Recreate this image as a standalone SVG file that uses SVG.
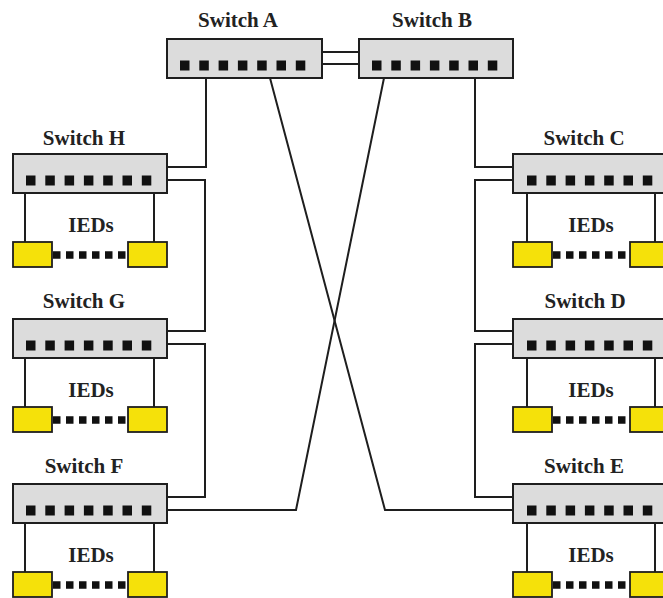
<svg xmlns="http://www.w3.org/2000/svg" xmlns:xlink="http://www.w3.org/1999/xlink" width="663" height="598" viewBox="0 0 663 598">
<style>
.box{fill:#dcdcdc;stroke:#1e1e1e;stroke-width:2}
.ied{fill:#f5e10a;stroke:#1e1e1e;stroke-width:1.8}
.port{fill:#111}
.ln{fill:none;stroke:#1e1e1e;stroke-width:2}
.dots{fill:none;stroke:#111;stroke-width:7.5;stroke-dasharray:7.5 5.5}
.lbl{font-family:"Liberation Serif","Times New Roman",serif;font-weight:bold;font-size:21px;fill:#222;text-anchor:middle}
</style>
<defs>
<g id="ports">
<rect class="port" x="0" y="0" width="9.5" height="10"/>
<rect class="port" x="19.3" y="0" width="9.5" height="10"/>
<rect class="port" x="38.6" y="0" width="9.5" height="10"/>
<rect class="port" x="57.9" y="0" width="9.5" height="10"/>
<rect class="port" x="77.2" y="0" width="9.5" height="10"/>
<rect class="port" x="96.5" y="0" width="9.5" height="10"/>
<rect class="port" x="115.8" y="0" width="9.5" height="10"/>
</g>
</defs>
<rect width="663" height="598" fill="#fff"/>

<g id="connectors">
<line class="ln" x1="322" y1="52" x2="359" y2="52"/>
<line class="ln" x1="322" y1="64" x2="359" y2="64"/>
<polyline class="ln" points="206,78 206,167 167,167"/>
<polyline class="ln" points="167,180 205,180 205,331 167,331"/>
<polyline class="ln" points="167,344 205,344 205,497 167,497"/>
<polyline class="ln" points="475,78 475,167 513,167"/>
<polyline class="ln" points="513,180 475,180 475,331 513,331"/>
<polyline class="ln" points="513,344 475,344 475,497 513,497"/>
<polyline class="ln" points="270,78 385,510 513,510"/>
<polyline class="ln" points="384,78 296,510 167,510"/>
<line class="ln" x1="25" y1="193" x2="25" y2="242"/>
<line class="ln" x1="154" y1="193" x2="154" y2="242"/>
<line class="ln" x1="25" y1="358" x2="25" y2="407"/>
<line class="ln" x1="154" y1="358" x2="154" y2="407"/>
<line class="ln" x1="25" y1="523" x2="25" y2="572"/>
<line class="ln" x1="154" y1="523" x2="154" y2="572"/>
<line class="ln" x1="527" y1="193" x2="527" y2="242"/>
<line class="ln" x1="655" y1="193" x2="655" y2="242"/>
<line class="ln" x1="527" y1="358" x2="527" y2="407"/>
<line class="ln" x1="655" y1="358" x2="655" y2="407"/>
<line class="ln" x1="527" y1="523" x2="527" y2="572"/>
<line class="ln" x1="655" y1="523" x2="655" y2="572"/>
</g>

<g id="switchA">
<text class="lbl" x="238" y="27">Switch A</text>
<rect class="box" x="167" y="39" width="155" height="39"/>
<use xlink:href="#ports" x="180" y="60.5"/>
</g>
<g id="switchB">
<text class="lbl" x="432" y="27">Switch B</text>
<rect class="box" x="359" y="39" width="154" height="39"/>
<use xlink:href="#ports" x="372" y="60.5"/>
</g>

<g id="switchH">
<text class="lbl" x="84" y="145">Switch H</text>
<rect class="box" x="13" y="154" width="154" height="39"/>
<use xlink:href="#ports" x="26" y="175.5"/>
</g>
<g id="switchG">
<text class="lbl" x="84" y="308">Switch G</text>
<rect class="box" x="13" y="319" width="154" height="39"/>
<use xlink:href="#ports" x="26" y="340.5"/>
</g>
<g id="switchF">
<text class="lbl" x="84" y="473">Switch F</text>
<rect class="box" x="13" y="484" width="154" height="39"/>
<use xlink:href="#ports" x="26" y="505.5"/>
</g>
<g id="switchC">
<text class="lbl" x="584" y="145">Switch C</text>
<rect class="box" x="513" y="154" width="156" height="39"/>
<use xlink:href="#ports" x="527" y="175.5"/>
</g>
<g id="switchD">
<text class="lbl" x="585" y="308">Switch D</text>
<rect class="box" x="513" y="319" width="156" height="39"/>
<use xlink:href="#ports" x="527" y="340.5"/>
</g>
<g id="switchE">
<text class="lbl" x="584" y="473">Switch E</text>
<rect class="box" x="513" y="484" width="156" height="39"/>
<use xlink:href="#ports" x="527" y="505.5"/>
</g>

<g id="iedsH">
<text class="lbl" x="91" y="232">IEDs</text>
<line class="dots" x1="53" y1="255" x2="127" y2="255"/>
<rect class="ied" x="13" y="242" width="39" height="25"/>
<rect class="ied" x="128" y="242" width="39" height="25"/>
</g>
<g id="iedsG">
<text class="lbl" x="91" y="397">IEDs</text>
<line class="dots" x1="53" y1="420" x2="127" y2="420"/>
<rect class="ied" x="13" y="407" width="39" height="25"/>
<rect class="ied" x="128" y="407" width="39" height="25"/>
</g>
<g id="iedsF">
<text class="lbl" x="91" y="562">IEDs</text>
<line class="dots" x1="53" y1="585" x2="127" y2="585"/>
<rect class="ied" x="13" y="572" width="39" height="25"/>
<rect class="ied" x="128" y="572" width="39" height="25"/>
</g>
<g id="iedsC">
<text class="lbl" x="591" y="232">IEDs</text>
<line class="dots" x1="553" y1="255" x2="627" y2="255"/>
<rect class="ied" x="513" y="242" width="39" height="25"/>
<rect class="ied" x="630" y="242" width="39" height="25"/>
</g>
<g id="iedsD">
<text class="lbl" x="591" y="397">IEDs</text>
<line class="dots" x1="553" y1="420" x2="627" y2="420"/>
<rect class="ied" x="513" y="407" width="39" height="25"/>
<rect class="ied" x="630" y="407" width="39" height="25"/>
</g>
<g id="iedsE">
<text class="lbl" x="591" y="562">IEDs</text>
<line class="dots" x1="553" y1="585" x2="627" y2="585"/>
<rect class="ied" x="513" y="572" width="39" height="25"/>
<rect class="ied" x="630" y="572" width="39" height="25"/>
</g>
</svg>
